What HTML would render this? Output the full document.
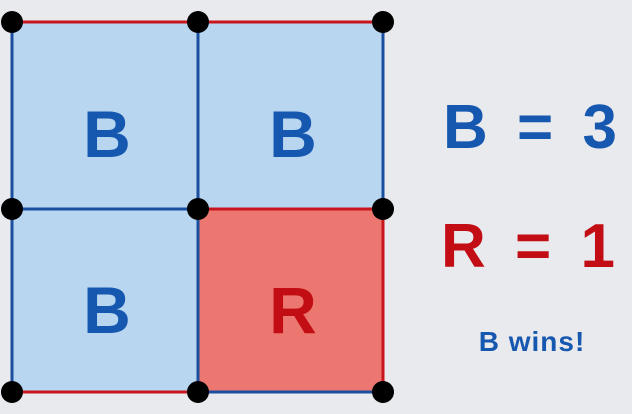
<!DOCTYPE html>
<html><head><meta charset="utf-8"><style>
body{margin:0;width:632px;height:414px;overflow:hidden;background:#e9eaed;}
svg{display:block}
text{font-family:"Liberation Sans",sans-serif;font-weight:bold}
</style></head><body>
<svg width="632" height="414">
<rect x="12" y="22" width="186" height="187" fill="#b8d6f0"/>
<rect x="198" y="22" width="185" height="187" fill="#b8d6f0"/>
<rect x="12" y="209" width="186" height="183" fill="#b8d6f0"/>
<rect x="198" y="209" width="185" height="183" fill="#ec7770"/>
<g stroke-width="3">
<line x1="12" y1="22" x2="198" y2="22" stroke="#c8161e"/>
<line x1="198" y1="22" x2="383" y2="22" stroke="#c8161e"/>
<line x1="12" y1="22" x2="12" y2="209" stroke="#1a4fa0"/>
<line x1="198" y1="22" x2="198" y2="209" stroke="#1a4fa0"/>
<line x1="383" y1="22" x2="383" y2="209" stroke="#1a4fa0"/>
<line x1="12" y1="209" x2="198" y2="209" stroke="#1a4fa0"/>
<line x1="198" y1="209" x2="383" y2="209" stroke="#c8161e"/>
<line x1="12" y1="209" x2="12" y2="392" stroke="#1a4fa0"/>
<line x1="198" y1="209" x2="198" y2="392" stroke="#1a4fa0"/>
<line x1="383" y1="209" x2="383" y2="392" stroke="#c8161e"/>
<line x1="12" y1="392" x2="198" y2="392" stroke="#c8161e"/>
<line x1="198" y1="392" x2="383" y2="392" stroke="#1a4fa0"/>
</g>
<g fill="#000">
<circle cx="12" cy="22" r="11"/>
<circle cx="198" cy="22" r="11"/>
<circle cx="383" cy="22" r="11"/>
<circle cx="12" cy="209" r="11"/>
<circle cx="198" cy="209" r="11"/>
<circle cx="383" cy="209" r="11"/>
<circle cx="12" cy="392" r="11"/>
<circle cx="198" cy="392" r="11"/>
<circle cx="383" cy="392" r="11"/>
</g>
<g font-size="66" text-anchor="middle">
<text x="107" y="157" fill="#1657b0">B</text>
<text x="293" y="157" fill="#1657b0">B</text>
<text x="107" y="333" fill="#1657b0">B</text>
<text x="293" y="333" fill="#c20d14">R</text>
</g>
<text x="533" y="148" font-size="62" text-anchor="middle" letter-spacing="6" fill="#1657b0">B = 3</text>
<text x="531" y="267" font-size="62" text-anchor="middle" letter-spacing="6" fill="#c20d14">R = 1</text>
<text x="532" y="351" font-size="28" text-anchor="middle" letter-spacing="1" fill="#1657b0">B wins!</text>
</svg>
</body></html>
